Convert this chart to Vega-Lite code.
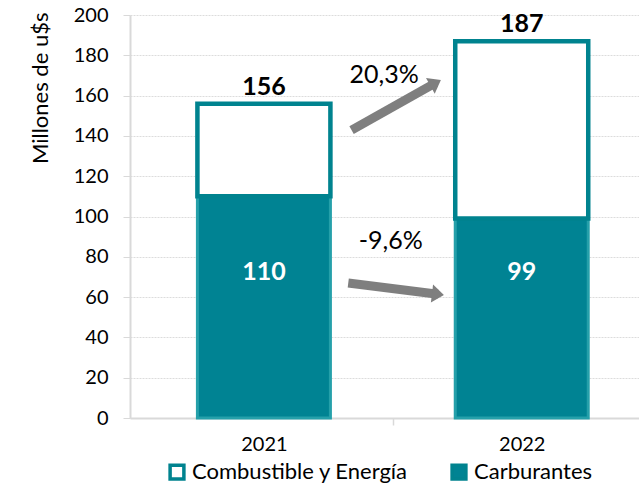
{
  "$schema": "https://vega.github.io/schema/vega-lite/v6.json",
  "width": 509,
  "height": 403,
  "autosize": {"type": "none"},
  "padding": {"left": 130, "top": 15, "right": 0, "bottom": 68},
  "background": "white",
  "config": {
    "font": "Lato",
    "view": {"stroke": null}
  },
  "datasets": {
    "barras": [
      {"anio": 2021, "serie": "Carburantes", "valor": 110},
      {"anio": 2021, "serie": "Combustible y Energía", "valor": 46},
      {"anio": 2022, "serie": "Carburantes", "valor": 99},
      {"anio": 2022, "serie": "Combustible y Energía", "valor": 88}
    ],
    "flechas": [
      {"tramo": "sube", "x0": 2021.340, "y0": 142.9, "x1": 2021.666, "y1": 166.3},
      {"tramo": "baja", "x0": 2021.327, "y0": 67.0, "x1": 2021.675, "y1": 61.4}
    ],
    "variaciones": [
      {"etiqueta": "20,3%", "px": 2021.466, "py": 170.2},
      {"etiqueta": "-9,6%", "px": 2021.492, "py": 87.8}
    ]
  },
  "layer": [
    {
      "data": {"name": "barras"},
      "mark": {"type": "bar", "width": 133},
      "encoding": {
        "x": {
          "field": "anio", "type": "quantitative",
          "scale": {"domain": [2020.5, 2022.4354], "nice": false, "zero": false},
          "axis": {
            "title": null,
            "values": [2021, 2021.5, 2022],
            "labelExpr": "datum.value == 2021.5 ? '' : toString(datum.value)",
            "labelFontSize": 20,
            "labelColor": "#000000",
            "labelPadding": 9,
            "labelFlush": false,
            "labelOverlap": false,
            "grid": false,
            "domainColor": "#d9d9d9",
            "domainWidth": 2,
            "tickColor": "#d9d9d9",
            "tickWidth": 1.5,
            "tickSize": 7,
            "tickOpacity": {"condition": {"test": "datum.value == 2021.5", "value": 1}, "value": 0}
          }
        },
        "y": {
          "field": "valor", "type": "quantitative", "stack": "zero",
          "title": "Millones de u$s",
          "scale": {"domain": [0, 200], "nice": false},
          "axis": {
            "title": "Millones de u$s",
            "titleFontSize": 22,
            "titleFontWeight": "normal",
            "titleColor": "#000000",
            "titleAngle": -90,
            "titleX": -90,
            "titleY": -3,
            "titleAlign": "right",
            "titleBaseline": "middle",
            "values": [0, 20, 40, 60, 80, 100, 120, 140, 160, 180, 200],
            "labelFontSize": 20,
            "labelColor": "#000000",
            "labelPadding": 15,
            "tickSize": 7,
            "tickColor": "#d9d9d9",
            "domainColor": "#d9d9d9",
            "domainWidth": 2,
            "gridColor": "#dcdcdc",
            "gridDash": [2, 1],
            "gridWidth": 1
          }
        },
        "color": {
          "field": "serie", "type": "nominal",
          "scale": {"domain": ["Combustible y Energía", "Carburantes"], "range": ["#ffffff", "#008393"]},
          "legend": {
            "title": null,
            "orient": "none",
            "direction": "horizontal",
            "legendX": 36,
            "legendY": 446,
            "symbolType": "square",
            "symbolSize": 190,
            "symbolStrokeColor": "#00838f",
            "symbolStrokeWidth": 3.5,
            "symbolOpacity": 1,
            "labelFontSize": 22,
            "labelColor": "#000000",
            "labelOffset": 4,
            "columnPadding": 36,
            "labelLimit": 400
          }
        },
        "stroke": {"condition": {"test": "datum.serie == 'Carburantes'", "value": "#25a0aa"}, "value": "#00838f"},
        "strokeWidth": {"condition": {"test": "datum.serie == 'Carburantes'", "value": 3}, "value": 4.5},
        "order": {"field": "serie", "sort": "ascending"}
      }
    },
    {
      "data": {"name": "barras"},
      "transform": [
        {"aggregate": [{"op": "sum", "field": "valor", "as": "total"}], "groupby": ["anio"]}
      ],
      "mark": {"type": "text", "fontSize": 25, "fontWeight": "bold", "color": "#000000", "baseline": "middle", "dy": -17},
      "encoding": {
        "x": {"field": "anio", "type": "quantitative", "title": null},
        "y": {"field": "total", "type": "quantitative", "title": "Millones de u$s"},
        "text": {"field": "total", "type": "quantitative"}
      }
    },
    {
      "data": {"name": "barras"},
      "transform": [{"filter": "datum.serie == 'Carburantes'"}],
      "mark": {"type": "text", "fontSize": 25, "fontWeight": "bold", "color": "#ffffff", "baseline": "middle"},
      "encoding": {
        "x": {"field": "anio", "type": "quantitative", "title": null},
        "y": {"datum": 72.5, "type": "quantitative", "title": "Millones de u$s"},
        "text": {"field": "valor", "type": "quantitative"}
      }
    },
    {
      "data": {"name": "flechas"},
      "mark": {"type": "rule", "color": "#7f7f7f", "strokeWidth": 9, "strokeCap": "butt"},
      "encoding": {
        "x": {"field": "x0", "type": "quantitative", "title": null},
        "y": {"field": "y0", "type": "quantitative", "title": "Millones de u$s"},
        "x2": {"field": "x1"},
        "y2": {"field": "y1"}
      }
    },
    {
      "data": {"name": "flechas"},
      "mark": {"type": "point", "shape": "M0.6,0 L-0.6,-0.9 L-0.6,0.9 Z", "size": 400, "filled": true, "color": "#7f7f7f", "opacity": 1},
      "encoding": {
        "x": {"field": "x1", "type": "quantitative", "title": null},
        "y": {"field": "y1", "type": "quantitative", "title": "Millones de u$s"},
        "angle": {"condition": {"test": "datum.tramo == 'sube'", "value": -29}, "value": 7}
      }
    },
    {
      "data": {"name": "variaciones"},
      "mark": {"type": "text", "fontSize": 25, "color": "#000000", "baseline": "middle"},
      "encoding": {
        "x": {"field": "px", "type": "quantitative", "title": null},
        "y": {"field": "py", "type": "quantitative", "title": "Millones de u$s"},
        "text": {"field": "etiqueta", "type": "nominal"}
      }
    }
  ]
}
